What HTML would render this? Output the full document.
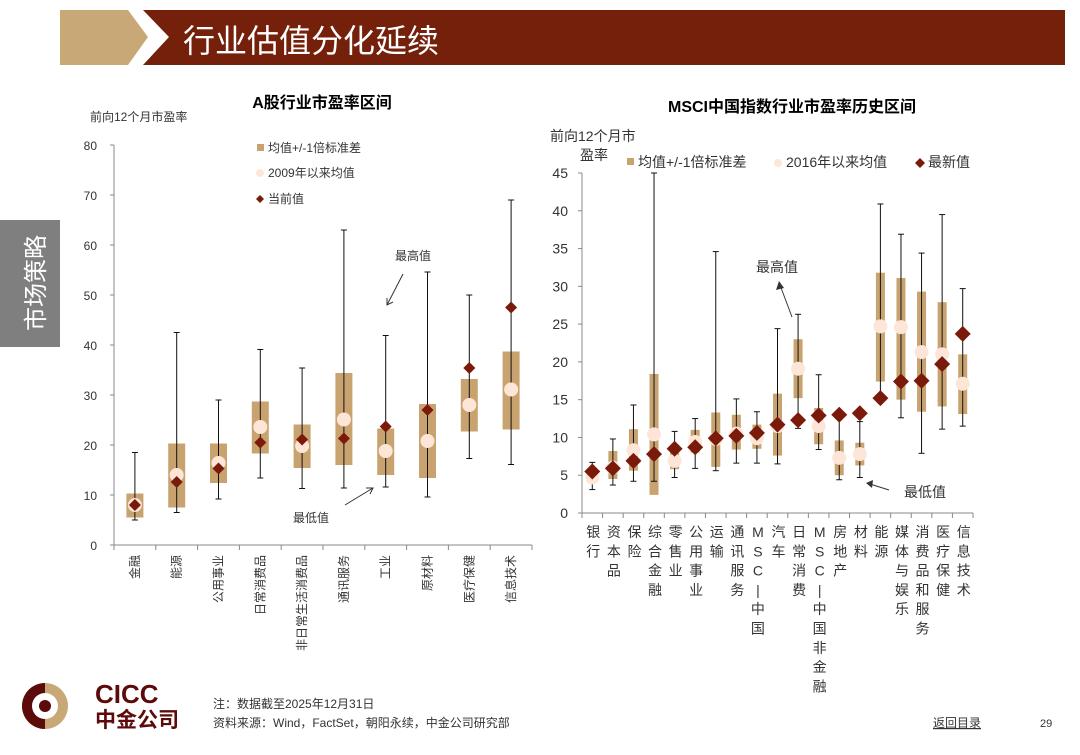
<!DOCTYPE html>
<html><head><meta charset="utf-8"><style>
body{margin:0;width:1080px;height:755px;background:#fff;overflow:hidden;font-family:"Liberation Sans","Noto Sans CJK SC",sans-serif;}
svg{position:absolute;left:0;top:0}
</style></head><body>
<svg width="1080" height="755" id="s" font-family="Liberation Sans, Noto Sans CJK SC, sans-serif">
<polygon points="60,10 128,10 148,37 128,65 60,65" fill="#c9a877"/>
<polygon points="143,10 1065,10 1065,65 143,65 169,37" fill="#74200b"/>
<text x="183" y="52" font-size="32" fill="#fff">行业估值分化延续</text>
<rect x="0" y="220" width="60" height="127" fill="#7f7f7f"/>
<text transform="translate(44,283) rotate(-90)" text-anchor="middle" font-size="24" fill="#fff">市场策略</text>
<text x="322" y="108" text-anchor="middle" font-size="16" font-weight="bold">A股行业市盈率区间</text>
<text x="90" y="121" font-size="12" fill="#333">前向12个月市盈率</text>
<text x="792" y="112" text-anchor="middle" font-size="16" font-weight="bold">MSCI中国指数行业市盈率历史区间</text>
<text x="550" y="141" font-size="14" fill="#333">前向12个月市</text>
<text x="580" y="160" font-size="14" fill="#333">盈率</text>
<g id="L"></g><g id="R"></g>
<g>
<circle cx="45" cy="706" r="23" fill="#c9a877"/>
<path d="M45 683 A23 23 0 0 0 45 729 Z" fill="#5c0a0a"/>
<circle cx="45" cy="706" r="13" fill="#fff"/>
<circle cx="45" cy="706" r="6" fill="#5c0a0a"/>
<text x="95" y="703" font-size="26" font-weight="bold" fill="#5c0a0a">CICC</text>
<text x="95" y="727" font-size="21" font-weight="bold" fill="#5c0a0a">中金公司</text>
</g>
<text x="213" y="708" font-size="12" fill="#333">注：数据截至2025年12月31日</text>
<text x="213" y="727" font-size="12" fill="#333">资料来源：Wind，FactSet，朝阳永续，中金公司研究部</text>
<text x="933" y="727" font-size="12" fill="#333" text-decoration="underline">返回目录</text>
<text x="1040" y="727" font-size="11" fill="#333">29</text>
</svg>
<script>
const lCats=["金融","能源","公用事业","日常消费品","非日常生活消费品","通讯服务","工业","原材料","医疗保健","信息技术"];
const lLow=[5.5,7.5,12.4,18.3,15.4,16,14,13.4,22.7,23.1];
const lHigh=[10.3,20.3,20.3,28.7,24.1,34.4,23.3,28.2,33.2,38.7];
const lMax=[18.5,42.5,29,39.1,35.4,63,41.9,54.6,50,69];
const lMin=[5,6.5,9.2,13.4,11.3,11.4,11.6,9.6,17.3,16.1];
const lMean=[8,14,16.4,23.6,19.8,25.1,18.8,20.8,28,31.1];
const lCur=[8,12.6,15.3,20.5,21.1,21.3,23.7,27,35.4,47.5];
const lTicks=[0,10,20,30,40,50,60,70,80];
const rCats=["银行","资本品","保险","综合金融","零售业","公用事业","运输","通讯服务","MSC|中国","汽车","日常消费","MSC|中国非金融","房地产","材料","能源","媒体与娱乐","消费品和服务","医疗保健","信息技术"];
const rLow=[4,4.5,5.6,2.4,5.8,8,6.1,8.4,8.5,7.6,15.2,9.1,5,6.3,17.4,15,13.4,14.1,13.1];
const rHigh=[6,8.2,11.1,18.4,8.5,11,13.3,13,11.7,15.8,23,13.9,9.6,9.3,31.8,31.1,29.3,27.9,21];
const rMax=[6.7,9.8,14.3,45,10.8,12.5,34.6,15.1,13.4,24.4,26.3,18.3,13,12.1,40.9,36.9,34.4,39.5,29.7];
const rMin=[3.1,3.7,4.2,4.2,4.7,5.9,5.6,6.6,6.6,6.5,11.2,8.4,4.4,4.7,15.2,12.6,7.9,11.1,11.5];
const rMean=[4.7,6,8.3,10.4,6.9,9.4,9.8,10.5,9.9,11.5,19.1,11.5,7.3,7.8,24.7,24.6,21.3,21,17.1];
const rCur=[5.5,5.9,6.9,7.8,8.5,8.7,9.9,10.2,10.6,11.7,12.3,12.9,13,13.2,15.2,17.4,17.5,19.7,23.7];
const rTicks=[0,5,10,15,20,25,30,35,40,45];
const NS="http://www.w3.org/2000/svg";
function mk(p,t,a){const e=document.createElementNS(NS,t);for(const k in a)e.setAttribute(k,a[k]);p.appendChild(e);return e;}
function draw(g,o){
 const n=o.cats.length,bw=(o.x1-o.x0)/n;
 const X=i=>o.x0+bw*(i+0.5), Y=v=>o.y0-(v-0)*(o.y0-o.yt)/o.ymax;
 let e=mk(g,'line',{x1:o.x0,y1:o.y0,x2:o.x0,y2:o.yt,stroke:'#888'});
 
 e=mk(g,'line',{x1:o.x0,y1:o.y0,x2:o.x1,y2:o.y0,stroke:'#888'});
 
 o.ticks.forEach(t=>{
  mk(g,'line',{x1:o.x0-4,y1:Y(t),x2:o.x0,y2:Y(t),stroke:'#888'});
  e=mk(g,'text',{x:o.x0-o.tg,y:Y(t)+5,'text-anchor':'end','font-size':o.tf,fill:'#333'});e.textContent=t;
  
 });
 for(let i=0;i<=n;i++)mk(g,'line',{x1:o.x0+bw*i,y1:o.y0,x2:o.x0+bw*i,y2:o.y0+5,stroke:'#888'});
 o.cats.forEach((c,i)=>{
  const x=X(i);
  e=mk(g,'rect',{x:x-o.bx/2,y:Y(o.hi[i]),width:o.bx,height:Y(o.lo[i])-Y(o.hi[i]),fill:'#c9a36f'});
  
  e=mk(g,'line',{x1:x,y1:Y(o.mx[i]),x2:x,y2:Y(o.mn[i]),stroke:'#111','stroke-width':1});
  
  mk(g,'line',{x1:x-3,y1:Y(o.mx[i]),x2:x+3,y2:Y(o.mx[i]),stroke:'#111'});
  mk(g,'line',{x1:x-3,y1:Y(o.mn[i]),x2:x+3,y2:Y(o.mn[i]),stroke:'#111'});
  e=mk(g,'circle',{cx:x,cy:Y(o.me[i]),r:o.cr,fill:'#fde6d8'});
  
  const y=Y(o.cu[i]),d=o.dr;
  e=mk(g,'polygon',{points:`${x},${y-d} ${x+d},${y} ${x},${y+d} ${x-d},${y}`,fill:'#7a1a0a'});
  
  if(o.rot){
   e=mk(g,'text',{transform:`translate(${x+4},${o.y0+10}) rotate(-90)`,'text-anchor':'end','font-size':12,fill:'#333'});e.textContent=c;
  } else {
   e=mk(g,'text',{x:x+1,y:o.y0+24,'text-anchor':'middle','font-size':14,fill:'#333'});
   [...c].forEach((ch,k)=>{const t=mk(e,'tspan',{x:x+1,y:o.y0+24+k*19.3});t.textContent=ch;});
  }
  
 });
}
draw(document.getElementById('L'),{cats:lCats,lo:lLow,hi:lHigh,mx:lMax,mn:lMin,me:lMean,cu:lCur,ticks:lTicks,x0:114,x1:532,y0:545,yt:145,ymax:80,bx:17,cr:7,dr:6,rot:true,tg:17,tf:12});
draw(document.getElementById('R'),{cats:rCats,lo:rLow,hi:rHigh,mx:rMax,mn:rMin,me:rMean,cu:rCur,ticks:rTicks,x0:582,x1:973,y0:513,yt:173,ymax:45,bx:9,cr:7,dr:8,rot:false,tg:14,tf:14});
const s=document.getElementById('s');
function t(x,y,str,fs,name){const e=mk(s,'text',{x:x,y:y,'font-size':fs,fill:'#333'});e.textContent=str;}
// left legend
mk(s,'rect',{x:257,y:144,width:7,height:7,fill:'#c9a36f'});t(268,152,'均值+/-1倍标准差',12,'legend-std');
mk(s,'circle',{cx:260,cy:173,r:4,fill:'#fde6d8'});t(268,177,'2009年以来均值',12,'legend-mean');
mk(s,'polygon',{points:'260,195 264,199 260,203 256,199',fill:'#7a1a0a'});t(268,203,'当前值',12,'legend-current');
t(395,260,'最高值',12,'annot-max');t(293,522,'最低值',12,'annot-min');
mk(s,'line',{x1:403,y1:274,x2:387,y2:305,stroke:'#333'});mk(s,'polyline',{points:'387,298 387,305 393,302',fill:'none',stroke:'#333'});
mk(s,'line',{x1:345,y1:505,x2:373,y2:488,stroke:'#333'});mk(s,'polyline',{points:'366,488 373,488 370,494',fill:'none',stroke:'#333'});
// right legend
mk(s,'rect',{x:627,y:158,width:7,height:7,fill:'#c9a36f'});t(638,167,'均值+/-1倍标准差',14,'legend-std-r');
mk(s,'circle',{cx:778,cy:163,r:4,fill:'#fde6d8'});t(786,167,'2016年以来均值',14,'legend-mean-r');
mk(s,'polygon',{points:'920,158 925,163 920,168 915,163',fill:'#7a1a0a'});t(928,167,'最新值',14,'legend-latest-r');
t(756,272,'最高值',14,'annot-max-r');t(904,497,'最低值',14,'annot-min-r');
mk(s,'line',{x1:792,y1:317,x2:780,y2:285,stroke:'#333'});mk(s,'polygon',{points:'779,281 776,290 784,288',fill:'#333'});
mk(s,'line',{x1:889,y1:490,x2:870,y2:484,stroke:'#333'});mk(s,'polygon',{points:'866,483 873,480 872,488',fill:'#333'});
</script>
</body></html>
